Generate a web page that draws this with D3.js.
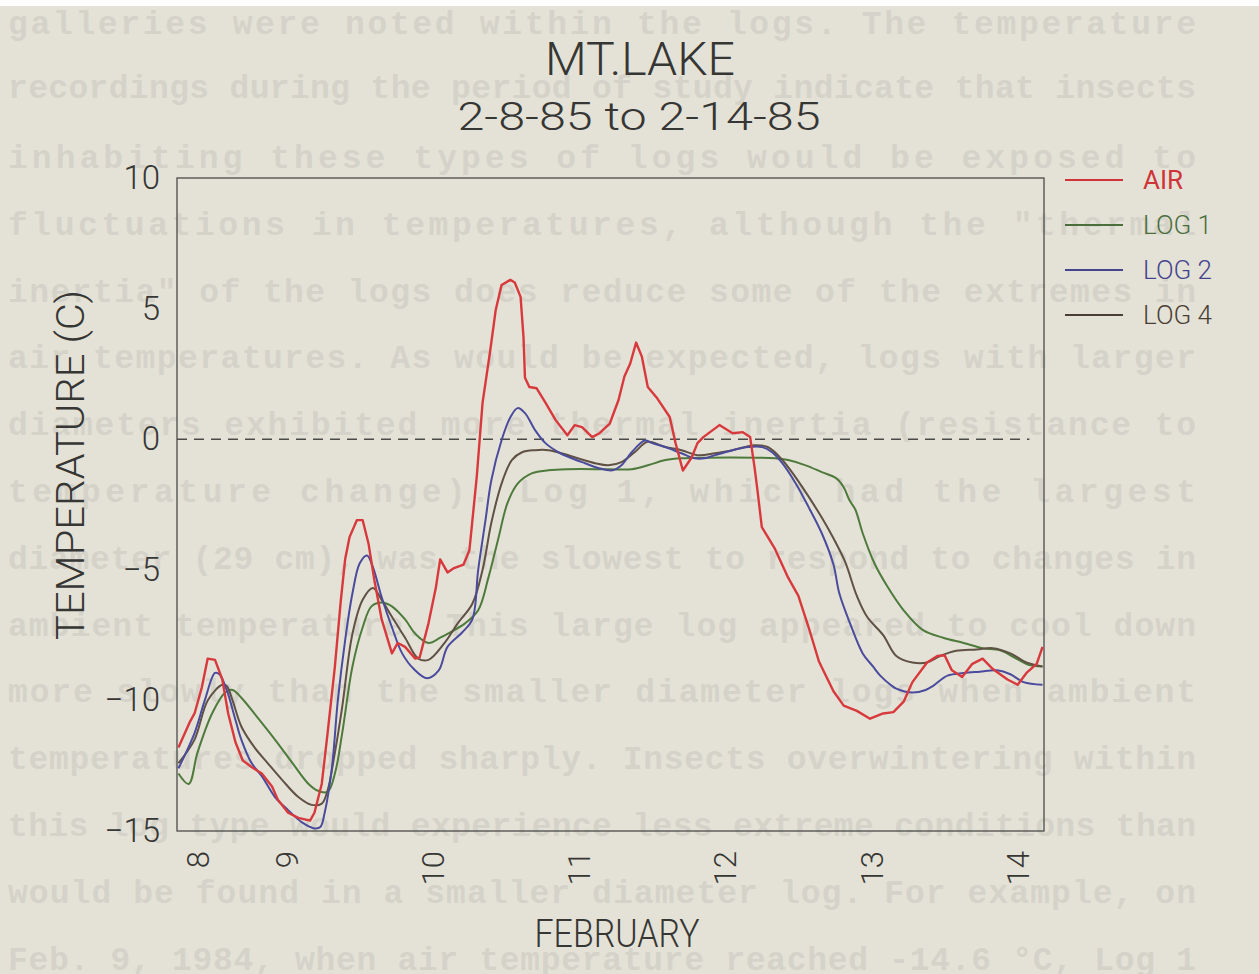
<!DOCTYPE html>
<head>
<meta charset="utf-8">
<style>
body { margin: 0; background: #fff; }
svg { display: block; }
.page-text { font-family: "Liberation Mono", "DejaVu Sans Mono", monospace; font-weight: bold; font-size: 33px; fill: #d5d3c9; }
.lbl { font-family: Roboto, "Liberation Sans", Arial, sans-serif; font-weight: 300; fill: #363634; }
</style>
</head>
<body>
<script src="https://d3js.org/d3.v7.min.js"></script>
<script type="text/javascript">

var width = 1259;
var height = 974;

// chart data: [day of February, temperature C]
var airSeries = [[8.26,-11.8],[8.34,-10.8],[8.37,-10.5],[8.42,-9.5],[8.46,-8.4],[8.51,-8.45],[8.56,-9.2],[8.60,-10.5],[8.65,-11.6],[8.70,-12.3],[8.76,-12.55],[8.83,-12.8],[8.90,-13.3],[8.94,-13.8],[9.01,-14.3],[9.08,-14.5],[9.16,-14.6],[9.19,-14.3],[9.24,-13.2],[9.28,-11.25],[9.33,-8.7],[9.37,-6.2],[9.40,-4.6],[9.43,-3.75],[9.48,-3.1],[9.52,-3.1],[9.56,-4.0],[9.60,-5.4],[9.65,-6.9],[9.72,-8.2],[9.76,-7.8],[9.81,-7.95],[9.88,-8.4],[9.91,-8.35],[9.97,-7.05],[10.02,-5.7],[10.05,-4.6],[10.10,-5.1],[10.14,-4.95],[10.21,-4.8],[10.25,-4.25],[10.30,-1.45],[10.34,1.4],[10.39,3.3],[10.43,4.95],[10.47,5.9],[10.53,6.1],[10.56,6.0],[10.60,5.45],[10.62,3.9],[10.63,2.35],[10.66,2.0],[10.71,1.95],[10.77,1.4],[10.84,0.73],[10.92,0.15],[10.97,0.54],[11.02,0.46],[11.09,0.08],[11.14,0.23],[11.21,0.6],[11.27,1.5],[11.31,2.4],[11.35,2.9],[11.39,3.7],[11.43,3.15],[11.47,2.0],[11.53,1.6],[11.62,0.85],[11.66,-0.15],[11.71,-1.2],[11.77,-0.7],[11.81,-0.15],[11.85,0.08],[11.96,0.54],[12.05,0.23],[12.12,0.27],[12.17,0.08],[12.20,-1.07],[12.22,-1.95],[12.25,-3.37],[12.34,-4.2],[12.43,-5.3],[12.50,-6.0],[12.57,-7.2],[12.64,-8.5],[12.74,-9.65],[12.81,-10.2],[12.90,-10.4],[12.99,-10.7],[13.08,-10.5],[13.15,-10.45],[13.22,-10.05],[13.28,-9.3],[13.38,-8.55],[13.45,-8.3],[13.50,-8.27],[13.55,-8.85],[13.62,-9.1],[13.69,-8.6],[13.76,-8.4],[13.83,-8.8],[13.93,-9.2],[14.00,-9.4],[14.06,-8.95],[14.13,-8.6],[14.17,-7.95]];

var log1Series = [[8.26,-12.8],[8.33,-13.2],[8.39,-12.0],[8.49,-10.5],[8.58,-9.7],[8.63,-9.6],[8.69,-9.9],[8.80,-10.65],[8.92,-11.5],[9.04,-12.4],[9.15,-13.2],[9.21,-13.45],[9.28,-13.5],[9.33,-12.8],[9.38,-11.25],[9.45,-8.7],[9.52,-7.2],[9.58,-6.4],[9.65,-6.25],[9.72,-6.4],[9.81,-6.9],[9.88,-7.45],[9.97,-7.8],[10.05,-7.6],[10.10,-7.45],[10.22,-7.05],[10.31,-6.55],[10.38,-5.3],[10.45,-3.75],[10.51,-2.45],[10.58,-1.7],[10.68,-1.3],[10.79,-1.19],[10.92,-1.15],[11.20,-1.15],[11.36,-1.15],[11.47,-1.0],[11.59,-0.8],[11.70,-0.73],[12.34,-0.73],[12.43,-0.8],[12.55,-1.0],[12.66,-1.26],[12.76,-1.5],[12.81,-1.84],[12.85,-2.34],[12.89,-2.7],[12.94,-3.6],[13.02,-4.75],[13.11,-5.65],[13.22,-6.55],[13.35,-7.3],[13.49,-7.6],[13.63,-7.8],[13.76,-8.0],[13.88,-8.08],[13.99,-8.4],[14.08,-8.65],[14.17,-8.7]];

var log2Series = [[8.26,-12.6],[8.37,-11.25],[8.44,-10.0],[8.51,-8.95],[8.54,-9.0],[8.59,-9.6],[8.65,-10.75],[8.69,-11.5],[8.76,-12.4],[8.83,-12.9],[8.92,-13.7],[9.01,-14.2],[9.10,-14.65],[9.19,-14.9],[9.23,-14.85],[9.26,-14.3],[9.31,-12.55],[9.35,-10.0],[9.40,-7.7],[9.45,-5.9],[9.50,-4.75],[9.55,-4.45],[9.59,-4.9],[9.65,-6.05],[9.72,-7.2],[9.79,-8.2],[9.87,-8.8],[9.96,-9.15],[10.04,-8.85],[10.10,-7.95],[10.20,-7.4],[10.27,-6.9],[10.31,-5.0],[10.36,-3.1],[10.40,-1.57],[10.47,-0.04],[10.53,0.84],[10.58,1.19],[10.63,1.0],[10.70,0.34],[10.77,-0.15],[10.86,-0.5],[10.95,-0.73],[11.04,-0.92],[11.13,-1.1],[11.23,-1.19],[11.29,-1.0],[11.36,-0.5],[11.45,-0.05],[11.50,-0.15],[11.59,-0.3],[11.70,-0.54],[11.79,-0.73],[11.86,-0.73],[11.93,-0.61],[12.05,-0.42],[12.16,-0.3],[12.25,-0.3],[12.32,-0.5],[12.39,-0.92],[12.48,-1.68],[12.57,-2.6],[12.66,-3.6],[12.74,-4.8],[12.78,-5.9],[12.85,-7.0],[12.94,-8.2],[13.01,-8.7],[13.06,-9.05],[13.13,-9.4],[13.17,-9.55],[13.28,-9.7],[13.37,-9.6],[13.42,-9.45],[13.52,-9.05],[13.63,-8.95],[13.74,-8.9],[13.86,-8.85],[13.95,-9.0],[14.04,-9.3],[14.17,-9.4]];

var log4Series = [[8.26,-12.4],[8.37,-11.5],[8.46,-10.0],[8.56,-9.4],[8.59,-9.45],[8.63,-10.0],[8.69,-11.0],[8.78,-11.8],[8.87,-12.4],[8.97,-13.05],[9.08,-13.7],[9.17,-14.0],[9.24,-13.95],[9.28,-13.45],[9.33,-12.0],[9.38,-10.25],[9.45,-7.45],[9.52,-6.15],[9.59,-5.7],[9.65,-6.15],[9.72,-6.8],[9.81,-7.6],[9.90,-8.4],[9.97,-8.45],[10.08,-7.8],[10.17,-7.05],[10.27,-6.3],[10.34,-5.0],[10.40,-3.2],[10.47,-1.7],[10.54,-0.8],[10.61,-0.5],[10.70,-0.42],[10.79,-0.42],[10.88,-0.54],[10.99,-0.73],[11.11,-0.92],[11.20,-1.0],[11.29,-0.88],[11.38,-0.5],[11.47,-0.1],[11.59,-0.3],[11.70,-0.42],[11.81,-0.61],[11.93,-0.54],[12.05,-0.42],[12.20,-0.23],[12.29,-0.3],[12.38,-0.73],[12.48,-1.45],[12.57,-2.2],[12.66,-3.0],[12.75,-3.9],[12.82,-4.7],[12.90,-6.0],[12.97,-6.8],[13.08,-7.5],[13.17,-8.3],[13.28,-8.55],[13.38,-8.55],[13.47,-8.3],[13.58,-8.1],[13.72,-8.05],[13.83,-8.0],[13.95,-8.2],[14.06,-8.55],[14.17,-8.7]];

var seriesNames = ["AIR", "LOG 1", "LOG 2", "LOG 4"];
var seriesColors = ["#d8393c", "#4e7a3c", "#4a4b9c", "#5f5143"];
var legendColors = ["#cf3438", "#4a6e3c", "#44458e", "#4a3f35"];

var yTicks = [10, 5, 0, -5, -10, -15];
var xTickDays = [8.39, 9, 10, 11, 12, 13, 14];
var xTickLabels = ["8", "9", "10", "11", "12", "13", "14"];

// faded text of the scanned page behind the figure
var pageLines = [
  "galleries were noted within the logs. The temperature",
  "recordings during the period of study indicate that insects",
  "inhabiting  these types of logs would be exposed to",
  "fluctuations in temperatures, although the \"thermal",
  "inertia\" of the logs does reduce some of the extremes in",
  "air temperatures. As would be expected, logs with larger",
  "diameters exhibited more thermal inertia (resistance to",
  "temperature change). Log 1, which had the largest",
  "diameter (29 cm), was the slowest to respond to changes in",
  "ambient temperature. This large log appeared to cool down",
  "more slowly than the smaller diameter logs when ambient",
  "temperatures dropped sharply. Insects overwintering within",
  "this log type would experience less extreme conditions than",
  "would be found in a smaller diameter log. For example, on",
  "Feb. 9, 1984, when air temperature reached -14.6 \u00b0C, Log 1"
];

var margin = {left: 177, top: 178, right: 1044, bottom: 831};

var svg = d3.select("body")
  .append("svg")
  .attr("width", width)
  .attr("height", height);

// paper
svg.append("rect")
  .attr("x", 0).attr("y", 6)
  .attr("width", width).attr("height", height - 6)
  .style("fill", "#e4e2d7");

svg.selectAll(".page-text")
  .data(pageLines)
  .enter()
  .append("text")
  .attr("class", "page-text")
  .attr("x", 8)
  .attr("y", function(d, i) {
    if (i == 0) return 34;
    if (i == 1) return 98;
    return 168 + (i - 2) * 66.8;
  })
  .attr("textLength", 1188)
  .attr("lengthAdjust", "spacing")
  .text(function(d) { return d; });

var x = d3.scaleLinear().domain([8.25, 14.18]).range([margin.left, margin.right]);
var y = d3.scaleLinear().domain([-15, 10]).range([margin.bottom, margin.top]);

// frame
svg.append("rect")
  .attr("x", margin.left).attr("y", margin.top)
  .attr("width", margin.right - margin.left)
  .attr("height", margin.bottom - margin.top)
  .style("fill", "none")
  .style("stroke", "#4a4a48")
  .style("stroke-width", 1.3);

// zero line
svg.append("line")
  .attr("x1", x(8.25)).attr("x2", x(14.08))
  .attr("y1", y(0)).attr("y2", y(0))
  .style("stroke", "#4a4a48")
  .style("stroke-width", 1.6)
  .style("stroke-dasharray", "10,7");

// y axis
var yAxis = svg.append("g")
  .attr("transform", "translate(" + margin.left + ",0)")
  .call(d3.axisLeft(y).tickValues(yTicks).tickSize(0).tickPadding(17));
yAxis.select(".domain").remove();
yAxis.selectAll("text")
  .attr("class", "lbl")
  .style("font-family", "Roboto, 'Liberation Sans', Arial, sans-serif")
  .style("font-weight", "300")
  .style("font-size", "33px")
  .style("fill", "#363634");

// x labels, rotated
svg.selectAll(".xlab")
  .data(xTickDays)
  .enter()
  .append("text")
  .attr("class", "lbl xlab")
  .attr("transform", function(d) { return "translate(" + x(d) + ",851) rotate(-90)"; })
  .attr("text-anchor", "end")
  .attr("dy", "0.36em")
  .style("font-size", "31px")
  .text(function(d, i) { return xTickLabels[i]; });

// series
var line = d3.line()
  .x(function(d) { return x(d[0]); })
  .y(function(d) { return y(d[1]); });

var smooth = d3.line()
  .curve(d3.curveCatmullRom.alpha(0.5))
  .x(function(d) { return x(d[0]); })
  .y(function(d) { return y(d[1]); });

var allSeries = [airSeries, log1Series, log2Series, log4Series];

// draw logs first, air on top
[1, 3, 2, 0].forEach(function(i) {
  svg.append("path")
    .datum(allSeries[i])
    .attr("d", i == 0 ? line : smooth)
    .style("fill", "none")
    .style("stroke", seriesColors[i])
    .style("stroke-width", i == 0 ? 2.4 : 2)
    .style("stroke-linejoin", "round");
});

// titles
svg.append("text")
  .attr("class", "lbl")
  .attr("x", 640).attr("y", 75)
  .attr("text-anchor", "middle")
  .attr("textLength", 190).attr("lengthAdjust", "spacingAndGlyphs")
  .style("font-size", "46px")
  .text("MT.LAKE");

svg.append("text")
  .attr("class", "lbl")
  .attr("x", 639).attr("y", 130)
  .attr("text-anchor", "middle")
  .attr("textLength", 363).attr("lengthAdjust", "spacingAndGlyphs")
  .style("font-size", "39px")
  .text("2-8-85 to 2-14-85");

svg.append("text")
  .attr("class", "lbl")
  .attr("x", 617).attr("y", 947)
  .attr("text-anchor", "middle")
  .attr("textLength", 165).attr("lengthAdjust", "spacingAndGlyphs")
  .style("font-size", "38px")
  .text("FEBRUARY");

svg.append("text")
  .attr("class", "lbl")
  .attr("transform", "translate(84,465) rotate(-90)")
  .attr("text-anchor", "middle")
  .attr("textLength", 350).attr("lengthAdjust", "spacingAndGlyphs")
  .style("font-size", "38px")
  .text("TEMPERATURE (C)");

// legend
var legend = svg.selectAll(".legend")
  .data(seriesNames)
  .enter()
  .append("g")
  .attr("class", "legend")
  .attr("transform", function(d, i) { return "translate(1065," + (180 + i * 45) + ")"; });

legend.append("line")
  .attr("x1", 0).attr("x2", 58)
  .attr("y1", 0).attr("y2", 0)
  .style("stroke", function(d, i) { return legendColors[i]; })
  .style("stroke-width", 1.8);

legend.append("text")
  .attr("class", "lbl")
  .attr("x", 78)
  .attr("y", 9)
  .style("font-size", "26px")
  .style("font-weight", function(d, i) { return i == 0 ? "400" : "300"; })
  .style("fill", function(d, i) { return legendColors[i]; })
  .text(function(d) { return d; });

</script>
</body>
